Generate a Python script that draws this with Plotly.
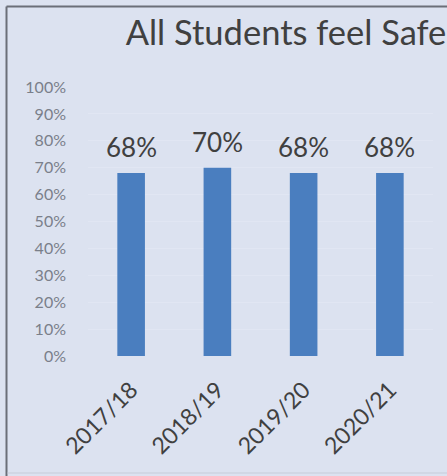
import plotly.graph_objects as go

categories = ["2017/18", "2018/19", "2019/20", "2020/21"]
values = [0.68, 0.70, 0.68, 0.68]
labels = ["68%", "70%", "68%", "68%"]
y_ticks = [0, 0.1, 0.2, 0.3, 0.4, 0.5, 0.6, 0.7, 0.8, 0.9, 1.0]
y_ticktext = ["0%", "10%", "20%", "30%", "40%", "50%", "60%", "70%", "80%", "90%", "100%"]
title = "All Students feel Safe"

W, H = 447, 476
L, R = 88, 433     # plot area px
T, B = 87, 356

def px_x(p):
    return (p - L) / (R - L)

def px_y(p):
    return (B - p) / (B - T)

BG = "#dce2f0"
FONT = "Lato"

fig = go.Figure()
fig.add_trace(go.Bar(
    x=categories, y=values,
    marker=dict(color="#4a7ebf", line=dict(width=0)),
    width=0.32, hoverinfo="skip",
))

for c, v, t in zip(categories, values, labels):
    fig.add_annotation(x=c, y=v, text=t, showarrow=False, xanchor="center",
                       yanchor="bottom", yshift=8,
                       font=dict(family=FONT, size=26, color="#404040"))

fig.update_layout(
    width=W, height=H,
    margin=dict(l=L, r=W - R, t=T, b=H - B, pad=0, autoexpand=False),
    paper_bgcolor=BG, plot_bgcolor=BG,
    showlegend=False,
    title=dict(text=title, x=286 / W, xref="container",
               xanchor="center", y=1 - 33 / H, yanchor="middle",
               font=dict(family=FONT, size=34.5, color="#404040")),
    xaxis=dict(tickangle=-45, tickfont=dict(family=FONT, size=23, color="#404040"),
               ticklabelstandoff=15,
               showgrid=False, zeroline=False, showline=False, ticks="",
               automargin=False),
    yaxis=dict(range=[0, 1], tickvals=y_ticks, ticktext=y_ticktext,
               tickfont=dict(family=FONT, size=16, color="#7a7f8a"),
               ticklabelstandoff=21,
               showgrid=True, gridcolor="#e1e6f3", gridwidth=1,
               zeroline=False, showline=False, ticks="", automargin=False),
)

lc = "#6b6f78"
fig.add_shape(type="line", xref="paper", yref="paper",
              x0=px_x(6.5), x1=px_x(6.5), y0=px_y(480), y1=px_y(6.5),
              line=dict(color=lc, width=2))
fig.add_shape(type="line", xref="paper", yref="paper",
              x0=px_x(6.5), x1=px_x(460), y0=px_y(6.5), y1=px_y(6.5),
              line=dict(color=lc, width=2))
fig.add_shape(type="line", xref="paper", yref="paper",
              x0=px_x(7.5), x1=px_x(460), y0=px_y(473), y1=px_y(473),
              line=dict(color="#c6ccd9", width=1))

fig.write_html("out.html", config={"displayModeBar": False},
               post_script="document.body.style.margin='0';")
